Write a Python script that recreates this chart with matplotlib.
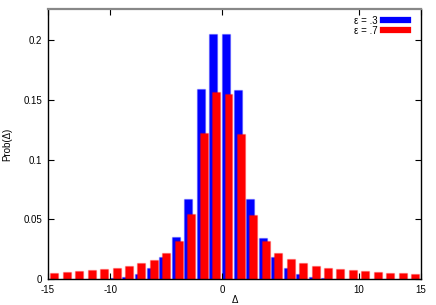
import numpy as np
import matplotlib
matplotlib.use("Agg")
import matplotlib.pyplot as plt
from matplotlib.lines import Line2D

plt.rcParams['font.family'] = ['Liberation Sans', 'DejaVu Sans']

# bin index (the "0" label sits between the two central bins)
bins = np.arange(-14, 16)

eps_03 = [0, 0, 0, 0, 0, 0.001, 0.0022, 0.0044, 0.0097, 0.0189, 0.0351, 0.0671,
          0.159, 0.205, 0.205, 0.158, 0.0671, 0.0345, 0.0186, 0.0097, 0.0047,
          0.0022, 0.001, 0, 0, 0, 0, 0, 0, 0]
eps_07 = [0.0055, 0.0064, 0.0072, 0.0078, 0.0086, 0.0097, 0.0111, 0.0134, 0.0164,
          0.022, 0.0323, 0.0546, 0.1223, 0.1566, 0.155, 0.1215, 0.0538, 0.0323,
          0.022, 0.0167, 0.0134, 0.011, 0.0097, 0.0086, 0.0078, 0.007, 0.0061,
          0.0053, 0.005, 0.0044]

xtick_pos = [-15, -10, -1, 10, 15]
xtick_labels = ["-15", "-10", "0", "10", "15"]
ytick_pos = [0, 0.05, 0.1, 0.15, 0.2]
ytick_labels = ["0", "0.05", "0.1", "0.15", "0.2"]

fig = plt.figure(figsize=(4.36, 3.05), dpi=100)
ax = fig.add_axes([0.110, 0.0843, 0.8556, 0.8852])

w = 0.64
ax.bar(bins - 0.72, eps_03, width=w, color="#0000ff", edgecolor=(0, 0, 1, 0.25), linewidth=1.0)
ax.bar(bins - 0.48, eps_07, width=w, color="#ff0000", edgecolor=(1, 0, 0, 0.25), linewidth=1.0)

ax.set_xlim(-15, 15)
ax.set_ylim(0, 0.2257)
ax.set_xticks(xtick_pos)
ax.set_xticklabels(xtick_labels)
ax.set_yticks(ytick_pos)
ax.set_yticklabels(ytick_labels)
ax.tick_params(direction="in", length=4, width=0.8, labelsize=7, top=True, right=True,
               labeltop=False, labelright=False, pad=4)

for s in ["left", "right", "bottom"]:
    ax.spines[s].set_linewidth(1.0)
ax.spines["top"].set_color("#888888")
ax.spines["top"].set_linewidth(1.6)

ax.set_xlabel("Δ", fontsize=7)
ax.xaxis.set_label_coords(0.5, -0.058)
ax.set_ylabel("Prob(Δ)", fontsize=7)
ax.yaxis.set_label_coords(-0.095, 0.5)

handles = [Line2D([], [], color="#0000ff", lw=4.5), Line2D([], [], color="#ff0000", lw=4.5)]
ax.legend(handles, ["ε = .3", "ε = .7"], loc="upper right", frameon=False, fontsize=7,
          markerfirst=False, handlelength=2.5, handletextpad=0.6, labelspacing=0.0,
          borderaxespad=0.0, bbox_to_anchor=(0.975, 0.99))

fig.savefig("out.png", dpi=100)
